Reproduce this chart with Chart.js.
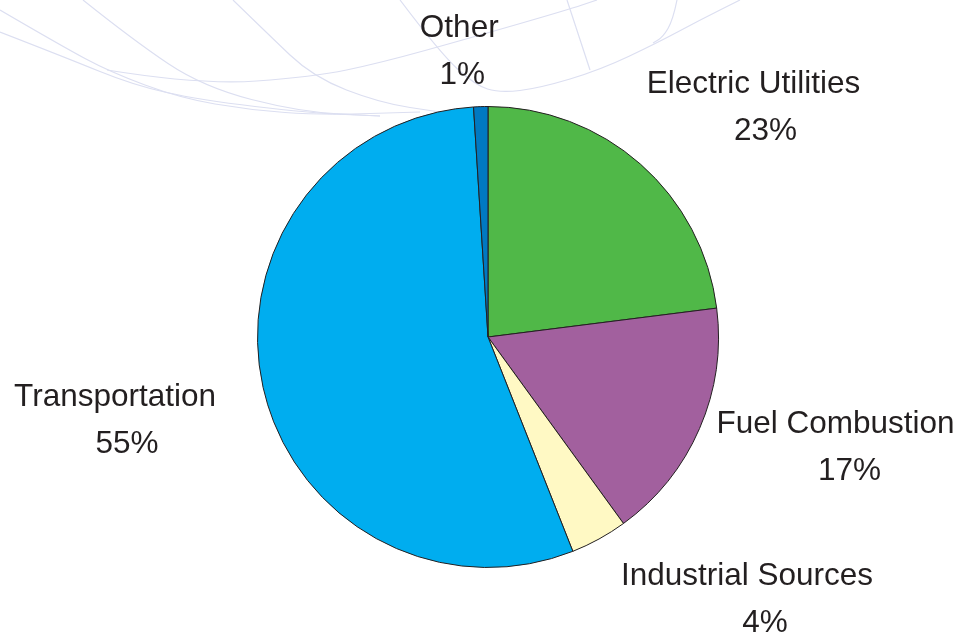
<!DOCTYPE html>
<html>
<head>
<meta charset="utf-8">
<script src="https://cdn.jsdelivr.net/npm/chart.js@4"></script>
<style>
    html, body { margin: 0; padding: 0; background: #fff; }
    #wrap { width: 966px; height: 635px; position: relative; }
</style>
</head>
<body>
<div id="wrap"><canvas id="emissionsPie"></canvas></div>
<script>
const sources = ['Electric Utilities', 'Fuel Combustion', 'Industrial Sources', 'Transportation', 'Other'];
const shares = [23, 17, 4, 55, 1];
const sliceColors = ['#50b848', '#a2609e', '#fff9c4', '#00adef', '#0079c2'];

// label nudges from the slice's outer edge point, plus the extra x shift of the % line
const labelNudge = [[119, -60], [143, 16], [157, 58], [-142, 30], [-20, -58]];
const pctShift = [12, 14, 18, 12, 3];

// faint globe wireframe in the background
const globeLines = [
    [[0, 10], [60, 45], [110, 72], [180, 98], [250, 110], [320, 115], [420, 112]],
    [[0, 32], [67, 58], [133, 85], [200, 100], [310, 113], [380, 116]],
    [[83, 0], [133, 40], [203, 87], [300, 112], [380, 116]],
    [[233, 0], [267, 33], [313, 77], [380, 103], [440, 112]],
    [[107, 70], [200, 85], [313, 77], [380, 63], [470, 38], [567, 10], [597, 0]],
    [[400, 0], [440, 53], [475, 85], [500, 93], [540, 88], [600, 70], [657, 43], [700, 20], [740, 0]],
    [[567, 0], [590, 70]],
    [[677, 0], [673, 20], [663, 37], [653, 43]]
];

const globePlugin = {
    id: 'globe',
    beforeDraw(chart) {
        const ctx = chart.ctx;
        ctx.save();
        ctx.strokeStyle = '#dcdff1';
        ctx.lineWidth = 1.2;
        globeLines.forEach(pts => {
            ctx.beginPath();
            ctx.moveTo(pts[0][0], pts[0][1]);
            for (let i = 1; i < pts.length - 1; i++) {
                const mx = (pts[i][0] + pts[i + 1][0]) / 2;
                const my = (pts[i][1] + pts[i + 1][1]) / 2;
                ctx.quadraticCurveTo(pts[i][0], pts[i][1], mx, my);
            }
            const last = pts[pts.length - 1];
            ctx.lineTo(last[0], last[1]);
            ctx.stroke();
        });
        ctx.restore();
    }
};

const sliceLabels = {
    id: 'sliceLabels',
    afterDraw(chart) {
        const ctx = chart.ctx;
        const arcs = chart.getDatasetMeta(0).data;
        ctx.save();
        ctx.fillStyle = '#231f20';
        ctx.font = '31.5px "Liberation Sans", Arial, sans-serif';
        ctx.textAlign = 'center';
        ctx.textBaseline = 'alphabetic';
        arcs.forEach((arc, i) => {
            const mid = (arc.startAngle + arc.endAngle) / 2;
            const x = arc.x + Math.cos(mid) * arc.outerRadius + labelNudge[i][0];
            const y = arc.y + Math.sin(mid) * arc.outerRadius + labelNudge[i][1];
            ctx.fillText(sources[i], x - pctShift[i] / 2, y - 11.5);
            ctx.fillText(shares[i] + '%', x + pctShift[i] / 2, y + 35.5);
        });
        ctx.restore();
    }
};

new Chart(document.getElementById('emissionsPie'), {
    type: 'pie',
    data: {
        labels: sources,
        datasets: [{
            data: shares,
            backgroundColor: sliceColors,
            borderColor: '#231f20',
            borderWidth: 1
        }]
    },
    options: {
        responsive: true,
        maintainAspectRatio: false,
        animation: false,
        layout: { padding: { top: 106, bottom: 67, left: 120, right: 110 } },
        plugins: {
            legend: { display: false },
            tooltip: { enabled: false }
        }
    },
    plugins: [globePlugin, sliceLabels]
});
</script>
</body>
</html>
